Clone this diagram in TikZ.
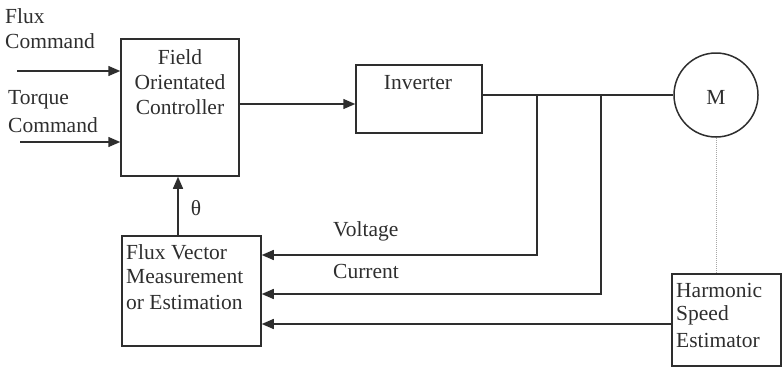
\documentclass[tikz,border=0pt]{standalone}
\usepackage{fontspec}
\setmainfont{Liberation Serif}
\usetikzlibrary{arrows.meta}
\definecolor{ink}{HTML}{2E2E2E}
\begin{document}
\begin{tikzpicture}[x=1pt,y=-1pt,
  box/.style={draw=ink,line width=1.5pt,inner sep=0pt,fill=none},
  txt/.style={text=ink,font=\fontsize{21.5}{25}\selectfont,inner sep=0pt},
  conn/.style={draw=ink,line width=1.5pt},
  arr/.style={conn,-{Triangle[length=12pt,width=10pt]}}]
\useasboundingbox (0,0) rectangle (783,370);
% boxes
\node[box,minimum width=118pt,minimum height=137pt] (foc) at (180,107.5) {};
\node[box,minimum width=126pt,minimum height=68pt] (inv) at (419,99) {};
\node[box,minimum width=139pt,minimum height=110pt] (fvm) at (191.5,291) {};
\node[box,minimum width=109pt,minimum height=92pt] (hse) at (726.5,320) {};
\node[box,circle,minimum size=84pt] (mot) at (716,95) {};
% texts
\node[txt] (t1) at (180,57) {Field};
\node[txt] (t2) at (180,82) {Orientated};
\node[txt] (t3) at (180,107) {Controller};
\node[txt] (ti) at (418,83) {Inverter};
\node[txt] (tm) at (716,97) {M};
\node[txt,anchor=west] (f1) at (126,252) {Flux Vector};
\node[txt,anchor=west] (f2) at (126,277) {Measurement};
\node[txt,anchor=west] (f3) at (126,302) {or Estimation};
\node[txt,anchor=west] (h1) at (676,290) {Harmonic};
\node[txt,anchor=west] (h2) at (676,315) {Speed};
\node[txt,anchor=west] (h3) at (676,340) {Estimator};
\node[txt,anchor=west] (c1) at (5,16) {Flux};
\node[txt,anchor=west] (c2) at (5,41) {Command};
\node[txt,anchor=west] (c3) at (8,100) {Torque};
\node[txt,anchor=west] (c4) at (8,125) {Command};
\node[txt,anchor=west] (lv) at (333,231) {Voltage};
\node[txt,anchor=west] (lc) at (333,271) {Current};
\node[txt] (th) at (196,208) {θ};
% coordinates
\coordinate (fin) at (17,71);
\coordinate (tin) at (20,142);
\coordinate (fo) at (239,104);
\coordinate (j1) at (537,95);
\coordinate (j2) at (601,95);
\coordinate (v1) at (537,255);
\coordinate (c1p) at (601,294);
\coordinate (hy) at (0,324);
\coordinate (ta) at (178,236);
% connectors
\draw[arr] (fin) -- (fin -| foc.west);
\draw[arr] (tin) -- (tin -| foc.west);
\draw[arr] (fo) -- (fo -| inv.west);
\draw[conn] (inv.east |- mot.west) -- (mot.west);
\draw[arr] (j1) -- (v1) -- (v1 -| fvm.east);
\draw[arr] (j2) -- (c1p) -- (c1p -| fvm.east);
\draw[arr] (hse.west |- hy) -- (fvm.east |- hy);
\draw[arr] (ta) -- (ta |- foc.south);
\draw[gray!70,line width=1pt,densely dotted] (mot.south) -- (hse.north -| mot.south);
\end{tikzpicture}
\end{document}
